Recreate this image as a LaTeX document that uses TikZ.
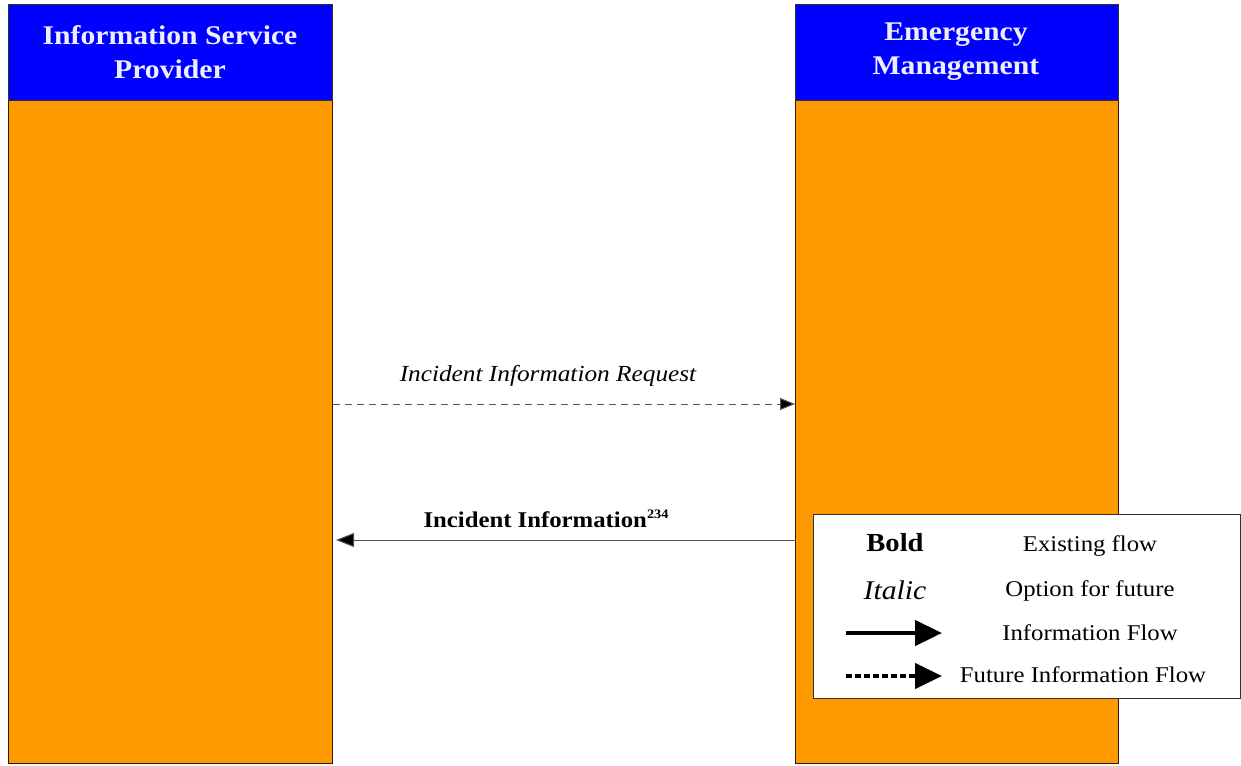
\documentclass[tikz,border=0pt]{standalone}
\usepackage{fontspec}
\setmainfont[FakeStretch=1.1]{Liberation Serif}
\usetikzlibrary{arrows.meta}
\definecolor{orng}{HTML}{FF9900}
\definecolor{hdrblue}{HTML}{0000FF}
\definecolor{hdrtext}{HTML}{EEEEFF}
\definecolor{linegray}{HTML}{555555}
\begin{document}
\begin{tikzpicture}[x=1pt,y=-1pt,
  colbody/.style={draw=black!80!orange,fill=orng,line width=1pt},
  colhead/.style={draw=black!80,fill=hdrblue,line width=1pt},
  hdrlabel/.style={text=hdrtext,font=\fontsize{27}{34}\selectfont\bfseries,align=center},
  legtext/.style={font=\fontsize{22.5}{26}\selectfont},
  flowline/.style={draw=linegray,line width=1pt},
  bigarrow/.style={line width=4.5pt,-{Triangle[length=27pt,width=25pt]}}
]
\useasboundingbox (0,0) rectangle (1241,765);
% columns
\draw[colbody] (8,101) rectangle (332,763);
\draw[colhead] (8,5) rectangle (332,101);
\node[hdrlabel] (isp) at (170,52) {Information Service\\Provider};
\draw[colbody] (795,101) rectangle (1118,763);
\draw[colhead] (795,5) rectangle (1118,101);
\node[hdrlabel] (em) at (956,52) {Emergency\\Management};
\coordinate (ispR1) at (333,404);
\coordinate (emL1) at (795,404);
\coordinate (ispR2) at (336,540);
\coordinate (emL2) at (796,540);
% flows
\draw[flowline,dashed,dash pattern=on 7pt off 5pt,-{Triangle[length=15pt,width=12pt,fill=black]}] (ispR1) -- (emL1);
\node[font=\fontsize{23}{27}\selectfont\itshape] (req) at (548,376) {Incident Information Request};
\draw[flowline,-{Triangle[length=18pt,width=14pt,fill=black]}] (emL2) -- (ispR2);
\node[font=\fontsize{22.5}{26}\selectfont\bfseries] (inf) at (546,519) {Incident Information\raisebox{9pt}{\fontsize{13}{13}\selectfont 234}};
% legend
\draw[draw=black!80,fill=white,line width=1pt] (813,514) rectangle (1240,698);
\node[font=\fontsize{26}{30}\selectfont\bfseries] (lb) at (895,543) {Bold};
\node[legtext] (lbt) at (1090,546) {Existing flow};
\node[font=\fontsize{27}{31}\selectfont\itshape] (li) at (895,590) {Italic};
\node[legtext] (lit) at (1090,591) {Option for future};
\coordinate (a1s) at (846,633);
\coordinate (a1e) at (942,633);
\draw[bigarrow] (a1s) -- (a1e);
\node[legtext] (lft) at (1090,633) {Information Flow};
\coordinate (a2s) at (846,676);
\coordinate (a2e) at (942,676);
\draw[bigarrow,dash pattern=on 5.5pt off 3.5pt] (a2s) -- (a2e);
\node[legtext] (lfft) at (1083,675) {Future Information Flow};
\end{tikzpicture}
\end{document}
